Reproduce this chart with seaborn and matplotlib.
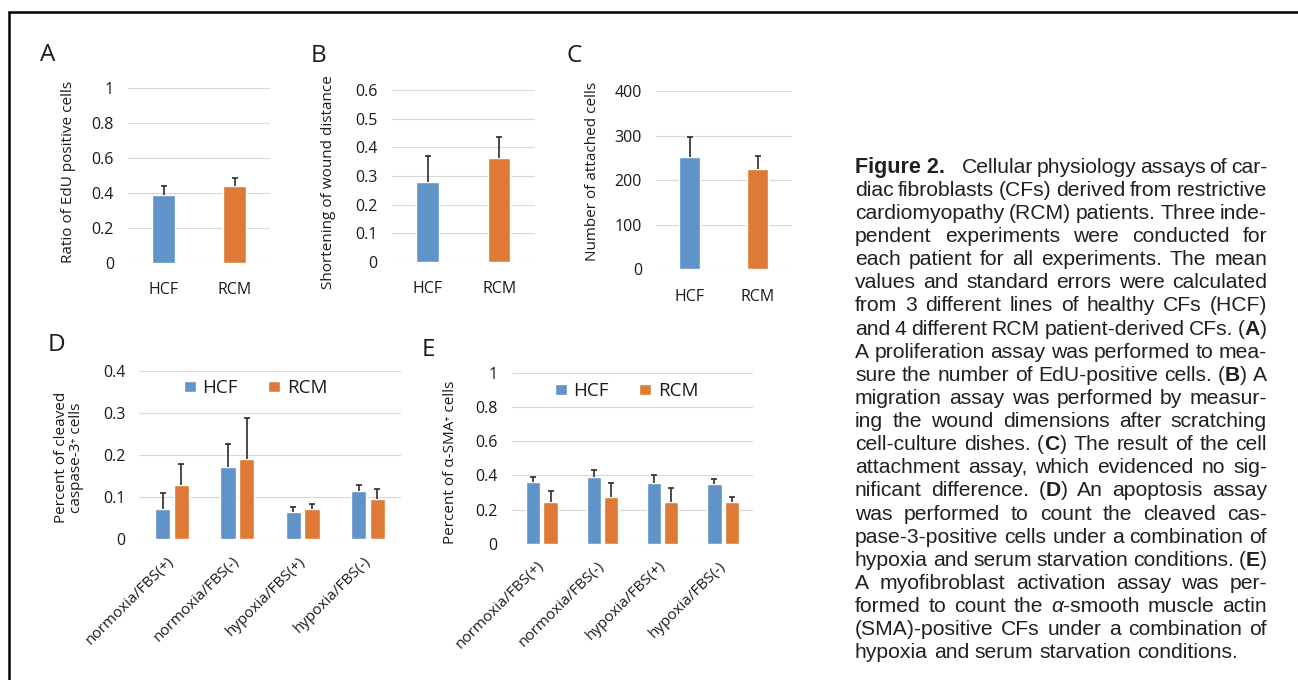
import re
import numpy as np
import pandas as pd
import matplotlib
matplotlib.use("Agg")
import matplotlib.pyplot as plt
import seaborn as sns
from matplotlib import font_manager as fm
from matplotlib.lines import Line2D
from matplotlib.ticker import FuncFormatter

# ---------------- data ----------------
groups = ["HCF", "RCM"]
edu_mean = [0.386, 0.442]
edu_err = [0.054, 0.042]
wound_mean = [0.280, 0.362]
wound_err = [0.089, 0.074]
attach_mean = [251, 226]
attach_err = [45, 28]

conditions = ["normoxia/FBS(+)", "normoxia/FBS(-)", "hypoxia/FBS(+)", "hypoxia/FBS(-)"]
casp_hcf = [0.072, 0.172, 0.064, 0.114]
casp_hcf_err = [0.037, 0.053, 0.013, 0.015]
casp_rcm = [0.130, 0.190, 0.071, 0.096]
casp_rcm_err = [0.048, 0.098, 0.012, 0.024]
sma_hcf = [0.362, 0.391, 0.354, 0.350]
sma_hcf_err = [0.031, 0.043, 0.051, 0.031]
sma_rcm = [0.247, 0.274, 0.243, 0.243]
sma_rcm_err = [0.062, 0.080, 0.086, 0.033]

caption_lines = [
    "##Figure~2.## Cellular physiology assays of car-",
    "diac fibroblasts (CFs) derived from restrictive",
    "cardiomyopathy (RCM) patients. Three inde-",
    "pendent experiments were conducted for",
    "each patient for all experiments. The mean",
    "values and standard errors were calculated",
    "from 3 different lines of healthy CFs (HCF)",
    "and 4 different RCM patient-derived CFs. (**A**)",
    "A proliferation assay was performed to mea-",
    "sure the number of EdU-positive cells. (**B**) A",
    "migration assay was performed by measur-",
    "ing the wound dimensions after scratching",
    "cell-culture dishes. (**C**) The result of the cell",
    "attachment assay, which evidenced no sig-",
    "nificant difference. (**D**) An apoptosis assay",
    "was performed to count the cleaved cas-",
    "pase-3-positive cells under a combination of",
    "hypoxia and serum starvation conditions. (**E**)",
    "A myofibroblast activation assay was per-",
    "formed to count the _α_-smooth muscle actin",
    "(SMA)-positive CFs under a combination of",
    "hypoxia and serum starvation conditions.",
]

# ---------------- style ----------------
BLUE = "#6093C7"
ORANGE = "#DE7A36"
ERRC = "#2E2A2A"
GRID = "#D9D9D9"
TEXT = "#1A1A1A"

sns.set_theme(style="white")
plt.rcParams["font.family"] = ["Open Sans", "DejaVu Sans"]
plt.rcParams["text.color"] = TEXT

W, H = 1298, 680
fig = plt.figure(figsize=(W / 100, H / 100), dpi=100)


def add_ax(x0, x1, y0, y1):
    return fig.add_axes([x0 / W, 1 - y1 / H, (x1 - x0) / W, (y1 - y0) / H])


def style_axis(ax, ymax, nstep, rect, ylabel, lab_xy, xpad=14, ypad=10):
    ax.set_ylim(0, ymax)
    ax.set_yticks(np.linspace(0, ymax, nstep + 1))
    ax.yaxis.set_major_formatter(FuncFormatter(lambda v, p: f"{v:g}"))
    ax.grid(axis="y", color=GRID, lw=0.8)
    ax.grid(axis="x", visible=False)
    ax.set_axisbelow(True)
    for s in ax.spines.values():
        s.set_visible(False)
    ax.tick_params(axis="both", length=0, labelsize=11.5, colors=TEXT)
    ax.tick_params(axis="x", pad=xpad)
    ax.tick_params(axis="y", pad=ypad)
    ax.set_xlabel("")
    ax.set_ylabel(ylabel, fontsize=11, color=TEXT, linespacing=1.0)
    ax.yaxis.label.set_va("center")
    x0, x1, y0, y1 = rect
    ax.yaxis.set_label_coords((lab_xy[0] - x0) / (x1 - x0), (y1 - lab_xy[1]) / (y1 - y0))


def add_errors(ax, errs):
    bars = sorted([p for p in ax.patches if p.get_width() > 0], key=lambda p: p.get_x())
    xs = np.array([p.get_x() + p.get_width() / 2 for p in bars])
    tops = np.array([p.get_height() for p in bars])
    errs = np.asarray(errs)
    ax.vlines(xs, tops, tops + errs, color=ERRC, lw=1.2, zorder=5)
    ax.plot(xs, tops + errs, ls="none", marker="_", ms=4.5, mew=1.2, color=ERRC, zorder=5)


def simple_panel(rect, means, errs, ymax, nstep, ylabel, lab_xy):
    ax = add_ax(*rect)
    df = pd.DataFrame({"group": groups, "value": means})
    sns.barplot(data=df, x="group", y="value", hue="group", palette=[BLUE, ORANGE],
                width=0.31, saturation=1, errorbar=None, legend=False, ax=ax)
    ax.set_xlim(-0.5, len(groups) - 0.5)
    add_errors(ax, errs)
    style_axis(ax, ymax, nstep, rect, ylabel, lab_xy)
    return ax


def grouped_panel(rect, hcf, rcm, hcf_err, rcm_err, ymax, nstep, ylabel, lab_xy, leg_xy):
    ax = add_ax(*rect)
    df = pd.DataFrame({
        "condition": conditions * 2,
        "group": ["HCF"] * len(conditions) + ["RCM"] * len(conditions),
        "value": list(hcf) + list(rcm),
    })
    sns.barplot(data=df, x="condition", y="value", hue="group", palette=[BLUE, ORANGE],
                width=0.572, gap=0.18, saturation=1, errorbar=None, ax=ax)
    ax.set_xlim(-0.5, len(conditions) - 0.5)
    errs = []
    for a, b in zip(hcf_err, rcm_err):
        errs += [a, b]
    add_errors(ax, errs)
    style_axis(ax, ymax, nstep, rect, ylabel, lab_xy, xpad=14)
    for lbl in ax.get_xticklabels():
        lbl.set_rotation(45)
        lbl.set_ha("right")
        lbl.set_va("center")
        lbl.set_rotation_mode("anchor")
        lbl.set_fontsize(11)
    sns.move_legend(ax, "center", bbox_to_anchor=leg_xy, ncol=2, frameon=False, title=None,
                    fontsize=13.5, handlelength=0.65, handleheight=0.55,
                    handletextpad=0.35, columnspacing=1.6)
    return ax


rectA = (128, 270, 88.3, 262.7)
rectB = (391.7, 535, 90, 262)
rectC = (656, 791.7, 91, 269.3)
rectD = (139.3, 400.7, 370.7, 539.3)
rectE = (511.7, 753.3, 372.7, 544)

simple_panel(rectA, edu_mean, edu_err, 1.0, 5, "Ratio of EdU positive cells", (69, 171.6))
simple_panel(rectB, wound_mean, wound_err, 0.6, 6, "Shortening of wound distance", (328, 182.5))
simple_panel(rectC, attach_mean, attach_err, 400, 4, "Number of attached cells", (593, 171))
grouped_panel(rectD, casp_hcf, casp_rcm, casp_hcf_err, casp_rcm_err, 0.4, 4,
              "Percent of cleaved\ncaspase-3\u207a cells", (69, 457.5), (0.445, 0.897))
grouped_panel(rectE, sma_hcf, sma_rcm, sma_hcf_err, sma_rcm_err, 1.0, 5,
              "Percent of \u03b1-SMA\u207a cells", (450, 462), (0.475, 0.893))

# panel letters
for letter, (px, py) in zip("ABCDE", [(40, 55), (311, 56), (567, 56), (48, 345), (422, 350)]):
    fig.text(px / W, 1 - py / H, letter, fontsize=17.5, ha="left", va="center", color=TEXT)

# border
fig.add_artist(Line2D([9 / W, 1.0], [1 - 11.5 / H] * 2, transform=fig.transFigure, color="black", lw=1.8))
fig.add_artist(Line2D([9 / W] * 2, [1 - 11.5 / H, 0.0], transform=fig.transFigure, color="black", lw=1.8))

# ---------------- caption (justified) ----------------
names = {f.name for f in fm.fontManager.ttflist}
BODY = "Liberation Sans" if "Liberation Sans" in names else "DejaVu Sans"
NARROW = "Liberation Sans Narrow" if "Liberation Sans Narrow" in names else BODY
CAP_FS = 15.2
CAP_X0, CAP_X1 = 855, 1267
BASE0, DY = 172.7, 23.12
CAPC = "#231F20"


def parse_word(word):
    segs = []
    for part in re.split(r"(\*\*[^*]+\*\*|##[^#]+##|_[^_]+_)", word):
        if not part:
            continue
        if part.startswith("**"):
            segs.append((part[2:-2], dict(family=BODY, weight="bold")))
        elif part.startswith("##"):
            segs.append((part[2:-2].replace("~", " "), dict(family=NARROW, weight="bold", fontsize=CAP_FS * 1.02)))
        elif part.startswith("_") and part.endswith("_") and len(part) > 2:
            segs.append((part[1:-1], dict(family=BODY, style="italic")))
        else:
            segs.append((part, dict(family=BODY)))
    return segs


renderer = fig.canvas.get_renderer()
space_w = 0.278 * CAP_FS * 100 / 72
for li, line in enumerate(caption_lines):
    words = line.split(" ")
    items = []
    for w in words:
        segs = []
        for txt, kw in parse_word(w):
            props = dict(fontsize=CAP_FS, color=CAPC, va="baseline", ha="left")
            props.update(kw)
            t = fig.text(0, 0, txt, **props)
            wd = t.get_window_extent(renderer=renderer).width
            segs.append((t, wd))
        extra = 13 if w.startswith("##") else 0
        items.append((segs, sum(s[1] for s in segs) + extra))
    total = sum(i[1] for i in items)
    last = li == len(caption_lines) - 1
    gap = space_w if (last or len(items) < 2) else (CAP_X1 - CAP_X0 - total) / (len(items) - 1)
    x = CAP_X0
    yb = 1 - (BASE0 + li * DY) / H
    for segs, wtot in items:
        xx = x
        for t, wd in segs:
            t.set_position((xx / W, yb))
            xx += wd
        x += wtot + gap

fig.savefig("out.png", dpi=100)
